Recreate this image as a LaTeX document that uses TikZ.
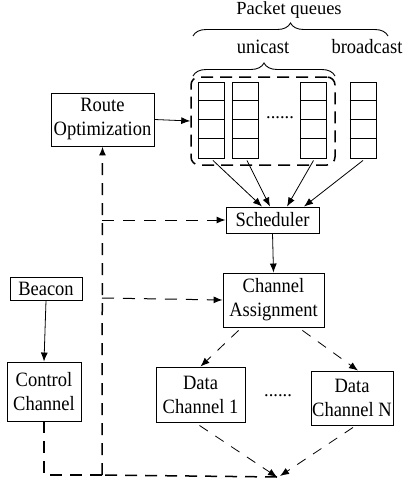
\documentclass[tikz,border=0pt]{standalone}
\usepackage{fontspec}
\setmainfont{Liberation Serif}
\usetikzlibrary{arrows.meta,decorations.pathreplacing,calc}
\newcommand\sy[1]{\scalebox{1}[1.1]{#1}}
\begin{document}
\begin{tikzpicture}[x=1pt,y=-1pt,
  box/.style={draw,line width=0.9pt,align=center,inner sep=0pt,font=\fontsize{18.5}{24}\selectfont},
  lbl/.style={font=\fontsize{18.5}{24}\selectfont,inner sep=0pt},
  cell/.style={draw,line width=0.9pt,minimum width=26pt,minimum height=76pt,inner sep=0pt},
  tip/.style={-{Latex[length=9pt,width=7pt]}},
  arr/.style={line width=0.8pt,tip},
  fb/.style={line width=1.5pt,dash pattern=on 12pt off 8pt},
  fbthin/.style={line width=1pt,dash pattern=on 12pt off 9pt,tip},
  dsh/.style={line width=0.8pt,dash pattern=on 10pt off 9pt,tip},
  brc/.style={line width=0.9pt,decorate}
]
\useasboundingbox (0,0) rectangle (402,487);

% labels and braces
\node[lbl,anchor=base] (pq) at (289,15) {Packet queues};
\draw[brc,decoration={brace,amplitude=13pt}] (193,36) -- (388,36);
\node[lbl] (uc) at (263,47) {\sy{unicast}};
\node[lbl] (bc) at (367,47) {\sy{broadcast}};
\draw[brc,decoration={brace,amplitude=13pt}] (193,76) -- (335,76);

% unicast group
\node[draw,line width=1.5pt,dash pattern=on 12pt off 7pt,rounded corners=8pt,minimum width=144pt,minimum height=88pt,inner sep=0pt] (uni) at (263,121) {};

% queues
\foreach \q/\xx in {q1/211,q2/245,q3/313.5,q4/363}{
  \node[cell] (\q) at (\xx,120) {};
  \foreach \k in {19,38,57}
    \draw[line width=0.9pt] (\q.north west) ++(0,\k) -- ++(26,0);
}
\node[lbl] (dots1) at (280,118) {......};

% boxes
\node[box,minimum width=103pt,minimum height=53pt] (ro) at (102.5,119.5) {\sy{Route}\\\sy{Optimization}};
\node[box,minimum width=93pt,minimum height=26pt] (sch) at (272.5,220) {\sy{Scheduler}};
\node[box,minimum width=101pt,minimum height=54pt] (ca) at (273.5,300) {\sy{Channel}\\\sy{Assignment}};
\node[box,minimum width=89pt,minimum height=55pt] (d1) at (200.5,394.5) {\sy{Data}\\\sy{Channel 1}};
\node[box,minimum width=82pt,minimum height=54pt] (dn) at (352,398) {\sy{Data}\\\sy{Channel N}};
\node[lbl] (dots2) at (278,396) {......};
\node[box,minimum width=72pt,minimum height=23pt] (bea) at (46,288.5) {\sy{Beacon}};
\node[box,minimum width=74pt,minimum height=59pt] (cc) at (44,391.5) {\sy{Control}\\\sy{Channel}};

% solid arrows
\draw[arr] (ro.east) -- (uni.west);
\draw[arr] ($(q1.south)+(2,2)$) -- ($(sch.north)+(-10.5,0)$);
\draw[arr] ($(q2.south)+(2,2)$) -- ($(sch.north)+(-2.5,0)$);
\draw[arr] ($(q3.south)+(0,2)$) -- ($(sch.north)+(14.5,0)$);
\draw[arr] ($(q4.south)+(0,2)$) -- ($(sch.north)+(31.5,0)$);
\draw[arr] (sch.south) -- (ca.north);
\draw[arr] (bea.south) -- (cc.north);

% dashed fan-out / fan-in
\coordinate (m) at (277,477);
\draw[dsh] ($(ca.south west)+(16,3)$) -- (d1.north);
\draw[dsh] ($(ca.south east)+(-22,3)$) -- ($(dn.north)+(6,0)$);
\draw[dsh] ($(d1.south)+(-1,3)$) -- (m);
\draw[dsh] ($(dn.south)+(1,2)$) -- ($(m)+(3,-1)$);

% feedback path
\coordinate (j) at (102,475);
\coordinate (cb) at (44,475);
\coordinate (b1) at (102,220);
\coordinate (b2) at (102,298);
\draw[fb] (cc.south) -- (cb) -- (j);
\draw[fb] (m) -- (j);
\draw[fb,tip] (j) -- (ro.south);
\draw[fbthin] (b1) -- (sch.west);
\draw[fbthin] (b2) -- (ca.west);
\end{tikzpicture}
\end{document}
